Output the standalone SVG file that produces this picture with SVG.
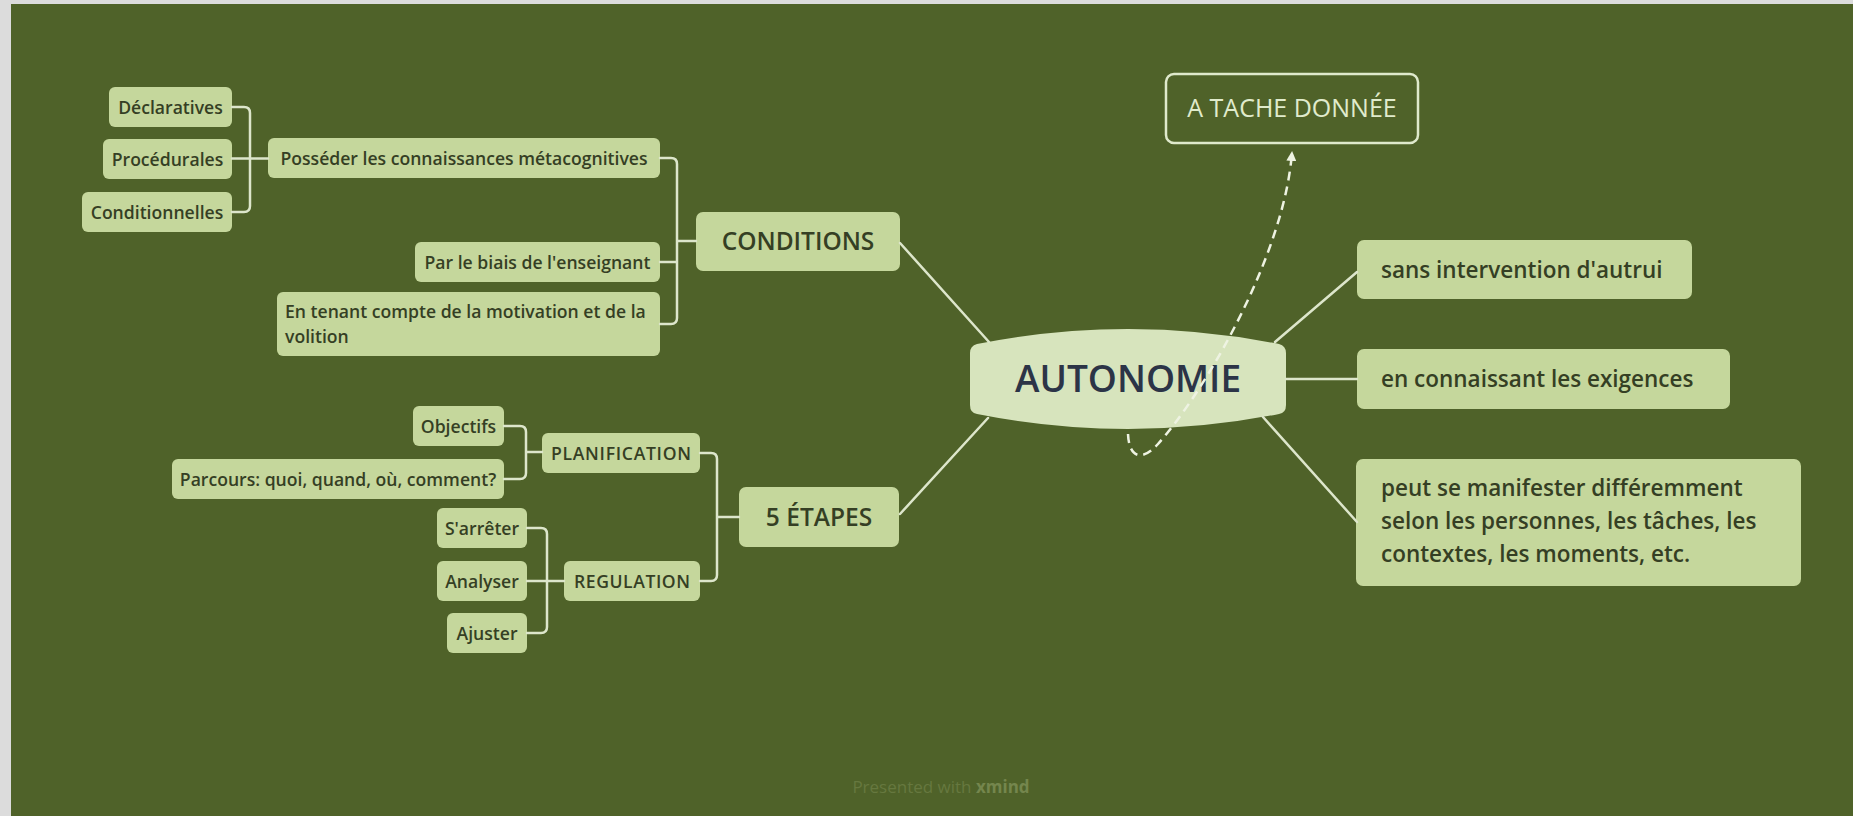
<svg xmlns="http://www.w3.org/2000/svg" width="1853" height="816" viewBox="0 0 1853 816">
<style>
.bg{fill:#dcdcdc}
.canvas{fill:#4f6229}
.n{fill:#c5d79c}
.t{font-family:"Open Sans","Noto Sans",sans-serif;fill:#353f24;font-weight:600}
.s{font-size:17.6px}
.m{font-size:24.5px}
.r{font-size:22.5px}
.c{text-anchor:middle}
.ln{fill:none;stroke:#dde6cb;stroke-width:2.5;stroke-linecap:round}
.dash{fill:none;stroke:#eef3e2;stroke-width:2.5;stroke-dasharray:9 6}
</style>
<defs>
<marker id="arr" viewBox="0 0 10 10" refX="9" refY="5" markerWidth="10" markerHeight="10" markerUnits="userSpaceOnUse" orient="auto">
<path d="M0,0 L10,5 L0,10 z" fill="#eef3e2"/>
</marker>
</defs>
<rect class="bg" x="0" y="0" width="1853" height="816"/>
<rect class="canvas" x="11" y="4" width="1842" height="812"/>

<g id="node-autonomie">
<path d="M977,344 Q1128,314 1279,344 Q1286,346 1286,353 L1286,405 Q1286,413 1279,414 Q1128,444 977,414 Q970,413 970,405 L970,353 Q970,346 977,344 Z" fill="#d7e4bd"/>
<text class="c" x="1128" y="392" font-family="Open Sans, Noto Sans, sans-serif" font-size="37" font-weight="600" fill="#2c3447">AUTONOMIE</text>
</g>

<g id="node-tache">
<rect x="1166" y="74" width="252" height="69" rx="8" fill="none" stroke="#dfe9cc" stroke-width="2.5"/>
<text class="c" x="1292" y="117" font-family="Open Sans, Noto Sans, sans-serif" font-size="25" fill="#e0ebcc">A TACHE DONNÉE</text>
</g>

<g id="node-conditions">
<rect class="n" x="696" y="212" width="204" height="59" rx="7"/>
<text class="t m c" x="798" y="250">CONDITIONS</text>
</g>
<g id="node-etapes">
<rect class="n" x="739" y="487" width="160" height="60" rx="7"/>
<text class="t m c" x="819" y="525.5">5 ÉTAPES</text>
</g>

<g id="node-possession">
<rect class="n" x="268" y="138" width="392" height="40" rx="6"/>
<text class="t s c" x="464" y="164.5">Posséder les connaissances métacognitives</text>
</g>
<g id="node-declaratives">
<rect class="n" x="109" y="87" width="123" height="40" rx="6"/>
<text class="t s c" x="170.5" y="113.5">Déclaratives</text>
</g>
<g id="node-procedurales">
<rect class="n" x="103" y="139" width="129" height="40" rx="6"/>
<text class="t s c" x="167.5" y="165.5">Procédurales</text>
</g>
<g id="node-conditionnelles">
<rect class="n" x="82" y="192" width="150" height="40" rx="6"/>
<text class="t s c" x="157" y="218.5">Conditionnelles</text>
</g>
<g id="node-biais">
<rect class="n" x="415" y="242" width="245" height="40" rx="6"/>
<text class="t s c" x="537.5" y="268.5">Par le biais de l'enseignant</text>
</g>
<g id="node-motivation">
<rect class="n" x="277" y="292" width="383" height="64" rx="6"/>
<text class="t s" x="285" y="318">En tenant compte de la motivation et de la</text>
<text class="t s" x="285" y="343">volition</text>
</g>

<g id="node-planification">
<rect class="n" x="542" y="433" width="158" height="40" rx="6"/>
<text class="t s c" x="621" y="459.5" textLength="140">PLANIFICATION</text>
</g>
<g id="node-objectifs">
<rect class="n" x="413" y="406" width="91" height="40" rx="6"/>
<text class="t s c" x="458.5" y="432.5">Objectifs</text>
</g>
<g id="node-parcours">
<rect class="n" x="172" y="459" width="332" height="40" rx="6"/>
<text class="t s c" x="338" y="485.5">Parcours: quoi, quand, où, comment?</text>
</g>
<g id="node-regulation">
<rect class="n" x="564" y="561" width="136" height="40" rx="6"/>
<text class="t s c" x="632" y="587.5" textLength="116">REGULATION</text>
</g>
<g id="node-arreter">
<rect class="n" x="437" y="508" width="90" height="40" rx="6"/>
<text class="t s c" x="482" y="534.5">S'arrêter</text>
</g>
<g id="node-analyser">
<rect class="n" x="437" y="561" width="90" height="40" rx="6"/>
<text class="t s c" x="482" y="587.5">Analyser</text>
</g>
<g id="node-ajuster">
<rect class="n" x="447" y="613" width="80" height="40" rx="6"/>
<text class="t s c" x="487" y="639.5">Ajuster</text>
</g>

<g id="node-sans">
<rect class="n" x="1357" y="240" width="335" height="59" rx="7"/>
<text class="t r" x="1381" y="277.5">sans intervention d'autrui</text>
</g>
<g id="node-exigences">
<rect class="n" x="1357" y="349" width="373" height="60" rx="7"/>
<text class="t r" x="1381" y="387">en connaissant les exigences</text>
</g>
<g id="node-manifester">
<rect class="n" x="1356" y="459" width="445" height="127" rx="7"/>
<text class="t r" x="1381" y="496">peut se manifester différemment</text>
<text class="t r" x="1381" y="529">selon les personnes, les tâches, les</text>
<text class="t r" x="1381" y="562">contextes, les moments, etc.</text>
</g>

<g id="connectors">
<path class="ln" d="M900,243 L989,342"/>
<path class="ln" d="M900,514 L988,418"/>
<path class="ln" d="M1275,342 L1357,272"/>
<path class="ln" d="M1286,379 H1357"/>
<path class="ln" d="M1263,417 L1357,522"/>
<path class="ln" d="M232,107 H244 Q250,107 250,113 V206 Q250,212 244,212 H232 M232,158.5 H268"/>
<path class="ln" d="M660,158 H671 Q677,158 677,164 V318 Q677,324 671,324 H660 M660,262 H677 M677,241 H696"/>
<path class="ln" d="M504,426 H520 Q526,426 526,432 V473 Q526,479 520,479 H504 M526,452 H542"/>
<path class="ln" d="M527,528 H541 Q547,528 547,534 V627 Q547,633 541,633 H527 M527,581 H564"/>
<path class="ln" d="M700,453 H711 Q717,453 717,459 V575 Q717,581 711,581 H700 M717,517 H739"/>
<path class="dash" d="M1128,434 C1129,458 1142,462 1158,444 C1210,385 1285,250 1292,152" marker-end="url(#arr)"/>
</g>

<text x="941" y="793" text-anchor="middle" font-family="Open Sans, Noto Sans, sans-serif" font-size="17" fill="#66783f">Presented with <tspan font-weight="bold" fill="#74864d">xmind</tspan></text>
</svg>
